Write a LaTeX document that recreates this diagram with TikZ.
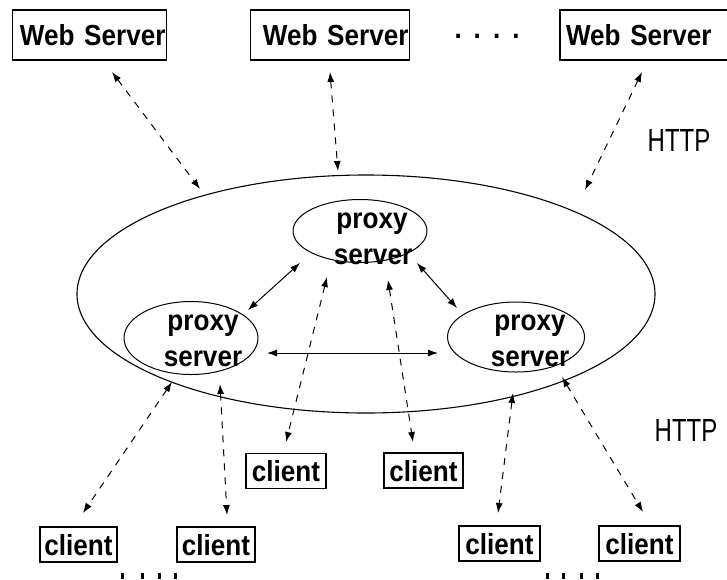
\documentclass[tikz,border=0pt]{standalone}
\usepackage{fontspec}
\setmainfont{Liberation Sans}
\newfontfamily\httpfont[FakeStretch=0.75]{Liberation Sans}
\newfontfamily\boxfont[FakeStretch=0.9]{Liberation Sans}
\usetikzlibrary{shapes.geometric,arrows.meta}
\begin{document}
\begin{tikzpicture}[x=1pt,y=-1pt,
  boxtxt/.style={font=\boxfont\bfseries\fontsize{29pt}{33pt}\selectfont},
  wsbox/.style={draw,line width=1.1pt,boxtxt,inner xsep=1pt,inner ysep=0pt,minimum height=50pt,align=right},
  clbox/.style={draw,line width=1.1pt,boxtxt,inner sep=0pt,minimum height=35pt,text depth=0pt},
  proxyell/.style={draw,ellipse,line width=1pt,inner sep=0pt},
  ptxt/.style={boxtxt,inner sep=0pt},
  tip/.style={{Latex[length=10pt,width=7pt]}-{Latex[length=10pt,width=7pt]}},
  dl/.style={tip,line width=1pt,dash pattern=on 7pt off 7pt},
  sl/.style={tip,line width=1pt},
  httplbl/.style={font=\httpfont\fontsize{32pt}{34pt}\selectfont,inner sep=0pt}]
\useasboundingbox (0,0) rectangle (727,579);
\fill[white] (0,0) rectangle (727,579);

% web servers
\node[wsbox,text width=152pt] (ws1) at (89.5,35) {Web Server};
\node[wsbox,text width=157pt] (ws2) at (330,35) {Web Server};
\node[wsbox,text width=168pt,align=left] (ws3) at (645,35) {\hspace*{5pt}Web Server};
\node[boxtxt,inner sep=0pt] (dots) at (487,36) {.\hspace{12pt}.\hspace{12pt}.\hspace{12pt}.};

% HTTP labels
\node[httplbl] (http1) at (679,140) {HTTP};
\node[httplbl] (http2) at (686,430) {HTTP};

% big ellipse
\node[proxyell,line width=1.1pt,minimum width=578pt,minimum height=238pt] (big) at (366,294) {};

% proxy servers
\node[proxyell,minimum width=134pt,minimum height=63pt] (ptop) at (360,231) {};
\node[proxyell,minimum width=134pt,minimum height=73pt] (pleft) at (191,338) {};
\node[proxyell,minimum width=137pt,minimum height=70pt] (pright) at (516,337) {};
\node[ptxt] (ptop1) at (372,224) {proxy};
\node[ptxt] (ptop2) at (373,257) {server};
\node[ptxt] (pleft1) at (203,326) {proxy};
\node[ptxt] (pleft2) at (203,359) {server};
\node[ptxt] (pright1) at (530,326) {proxy};
\node[ptxt] (pright2) at (530,359) {server};

% clients
\node[clbox,minimum width=77pt] (c1) at (78.5,544.5) {client};
\node[clbox,minimum width=78pt] (c2) at (216,544.5) {client};
\node[clbox,minimum width=80pt] (c3) at (286,471) {client};
\node[clbox,minimum width=79pt] (c4) at (423.5,470.5) {client};
\node[clbox,minimum width=81pt] (c5) at (499.5,543.5) {client};
\node[clbox,minimum width=81pt] (c6) at (639.5,543.5) {client};

% connector end points
\coordinate (a1) at (112,72);  \coordinate (a2) at (200,189);
\coordinate (b1) at (330,72);  \coordinate (b2) at (338,171);
\coordinate (d1) at (642,72);  \coordinate (d2) at (585,190);
\coordinate (e1) at (300,263); \coordinate (e2) at (248,310);
\coordinate (f1) at (417,263); \coordinate (f2) at (457,308);
\coordinate (g1) at (267,353); \coordinate (g2) at (438,353);
\coordinate (h1) at (172,382); \coordinate (h2) at (83,513);
\coordinate (i1) at (220,384); \coordinate (i2) at (227,515);
\coordinate (j1) at (327,277); \coordinate (j2) at (286,442);
\coordinate (k1) at (388,280); \coordinate (k2) at (413,442);
\coordinate (l1) at (513,393); \coordinate (l2) at (498,513);
\coordinate (m1) at (562,377); \coordinate (m2) at (643,512);

\draw[dl] (a1) -- (a2);
\draw[dl] (b1) -- (b2);
\draw[dl] (d1) -- (d2);
\draw[sl] (e1) -- (e2);
\draw[sl] (f1) -- (f2);
\draw[sl] (g1) -- (g2);
\draw[dl] (h1) -- (h2);
\draw[dl] (i1) -- (i2);
\draw[dl] (j1) -- (j2);
\draw[dl] (k1) -- (k2);
\draw[dl] (l1) -- (l2);
\draw[dl] (m1) -- (m2);

% cut-off marks at the bottom
\foreach \xx in {121,141,158,174,546,562,580,596}
  \fill (\xx,573) rectangle ++(3,6);
\end{tikzpicture}
\end{document}
